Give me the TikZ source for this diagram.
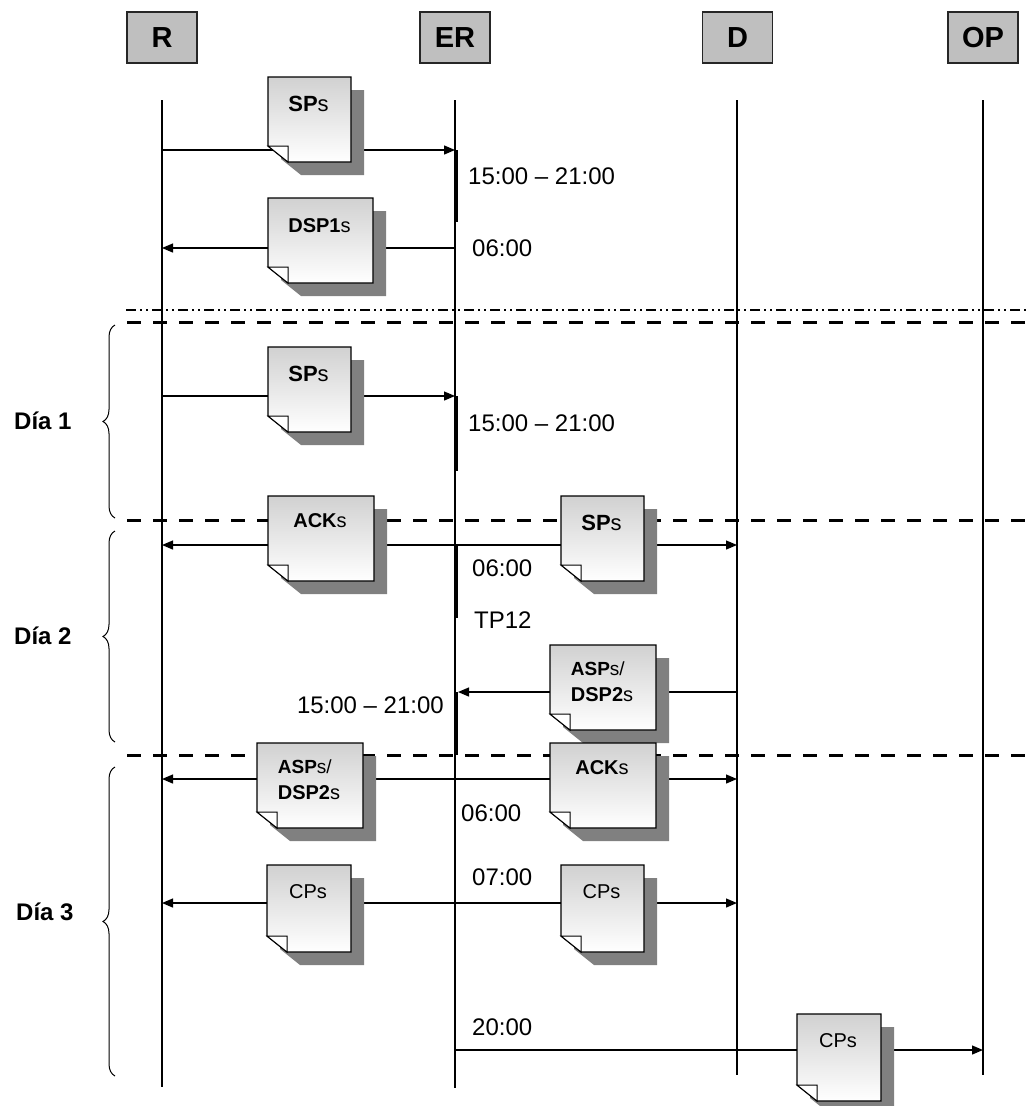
\documentclass[tikz,border=0pt]{standalone}
\usepackage{fontspec}
\setmainfont{Liberation Sans}
\usetikzlibrary{arrows.meta,decorations.pathreplacing}
\tikzset{
 lifeline/.style={line width=1.3pt},
 hdr/.style={draw=black!85, line width=1.5pt, fill=black!25, minimum width=70pt, minimum height=51pt, inner sep=0pt, font=\fontsize{29}{31}\selectfont\bfseries},
 msg/.style={line width=1.3pt, -{Triangle[length=11pt,width=9pt]}},
 actbar/.style={line width=4.5pt},
 daysep/.style={line width=3pt, dash pattern=on 14pt off 12pt},
 periodsep/.style={line width=1.2pt, dash pattern=on 10pt off 4pt on 2pt off 4pt on 2pt off 4pt},
 docshadow/.style={fill=black!50},
 docbody/.style={top color=black!18, bottom color=white, draw=black, line width=1.3pt},
 docfold/.style={fill=white, draw=black, line width=1pt},
 doclabel/.style={inner sep=0pt, font=\fontsize{20}{26}\selectfont, align=left},
 timelabel/.style={inner sep=0pt, font=\fontsize{24}{26}\selectfont},
 daylabel/.style={inner sep=0pt, font=\fontsize{24}{26}\selectfont\bfseries, anchor=west},
 daybrace/.style={decorate, decoration={brace, amplitude=12pt}, line width=1pt},
}
\newcommand\docshape[7]{%
 \begin{scope}[shift={(#2,#3)}]
  \fill[docshadow] (13,13) -- ({#4+13},13) -- ({#4+13},{#5+13}) -- (33,{#5+13}) -- (13,{#5-3}) -- cycle;
  \shadedraw[docbody] (0,0) -- (#4,0) -- (#4,#5) -- (20,#5) -- (0,{#5-16}) -- cycle;
  \filldraw[docfold] (0,{#5-16}) -- (20,{#5-16}) -- (20,#5) -- cycle;
  \node[doclabel] (#1) at ({#4/2-1},#7) {#6};
 \end{scope}}
\begin{document}
\begin{tikzpicture}[x=1pt,y=-1pt]
\useasboundingbox (0,0) rectangle (1027,1106);
% headers
\node[hdr] (hR) at (162,37.5) {R};
\node[hdr] (hER) at (455,37.5) {ER};
\node[hdr] (hD) at (737.5,37.5) {D};
\node[hdr] (hOP) at (983,37.5) {OP};
% lifelines
\coordinate (Rt) at (162,100); \coordinate (Rb) at (162,1087);
\coordinate (Et) at (455,100); \coordinate (Eb) at (455,1088);
\coordinate (Dt) at (737,100); \coordinate (Db) at (737,1075);
\coordinate (Ot) at (983,100); \coordinate (Ob) at (983,1075);
\draw[lifeline] (Rt) -- (Rb);
\draw[lifeline] (Et) -- (Eb);
\draw[lifeline] (Dt) -- (Db);
\draw[lifeline] (Ot) -- (Ob);
% separators
\coordinate (p0a) at (126,310); \coordinate (p0b) at (1027,310);
\draw[periodsep] (p0a) -- (p0b);
\coordinate (s1a) at (127,322); \coordinate (s1b) at (1027,322);
\coordinate (s2a) at (127,520); \coordinate (s2b) at (1027,520);
\coordinate (s3a) at (127,755); \coordinate (s3b) at (1027,755);
\draw[daysep] (s1a) -- (s1b);
\draw[daysep] (s2a) -- (s2b);
\draw[daysep] (s3a) -- (s3b);
% braces and day labels
\coordinate (b1a) at (115,518); \coordinate (b1b) at (115,325);
\coordinate (b2a) at (115,742); \coordinate (b2b) at (115,531);
\coordinate (b3a) at (115,1076); \coordinate (b3b) at (115,767);
\draw[daybrace] (b1a) -- (b1b);
\draw[daybrace] (b2a) -- (b2b);
\draw[daybrace] (b3a) -- (b3b);
\node[daylabel] (dia1) at (14,421) {Día 1};
\node[daylabel] (dia2) at (14,636) {Día 2};
\node[daylabel] (dia3) at (16,912) {Día 3};
% message coordinates
\coordinate (R1) at (162,150); \coordinate (E1) at (455,150);
\coordinate (R2) at (162,248); \coordinate (E2) at (455,248);
\coordinate (R3) at (162,396); \coordinate (E3) at (455,396);
\coordinate (R4) at (162,545); \coordinate (E4) at (455,545); \coordinate (D4) at (737,545);
\coordinate (D5) at (737,692); \coordinate (E5) at (458,692);
\coordinate (R6) at (162,779); \coordinate (E6) at (455,779); \coordinate (D6) at (737,779);
\coordinate (R7) at (162,903); \coordinate (E7) at (455,903); \coordinate (D7) at (737,903);
\coordinate (E8) at (455,1050); \coordinate (O8) at (983,1050);
\draw[msg] (R1) -- (E1);
\draw[msg] (E2) -- (R2);
\draw[msg] (R3) -- (E3);
\draw[msg] (E4) -- (R4);
\draw[msg] (E4) -- (D4);
\draw[msg] (D5) -- (E5);
\draw[msg] (E6) -- (R6);
\draw[msg] (E6) -- (D6);
\draw[msg] (E7) -- (R7);
\draw[msg] (E7) -- (D7);
\draw[msg] (E8) -- (O8);
% activation bars
\coordinate (a1t) at (456,150); \coordinate (a1b) at (456,222);
\coordinate (a2t) at (456,396); \coordinate (a2b) at (456,471);
\coordinate (a3t) at (456,545); \coordinate (a3b) at (456,618);
\coordinate (a4t) at (456,692); \coordinate (a4b) at (456,755);
\draw[actbar] (a1t) -- (a1b);
\draw[actbar] (a2t) -- (a2b);
\draw[actbar] (a3t) -- (a3b);
\draw[actbar] (a4t) -- (a4b);
% documents
\docshape{d1}{268}{77}{83}{85}{\fontsize{22}{26}\selectfont\textbf{SP}s}{27}
\docshape{d2}{268}{198}{105}{85}{\textbf{DSP1}s}{28}
\docshape{d3}{268}{347}{83}{85}{\fontsize{22}{26}\selectfont\textbf{SP}s}{27}
\docshape{d4}{268}{496}{106}{85}{\textbf{ACK}s}{25}
\docshape{d5}{561}{496}{83}{85}{\fontsize{22}{26}\selectfont\textbf{SP}s}{27}
\docshape{d6}{550}{645}{106}{85}{\fontsize{19}{26}\selectfont\textbf{ASP}s/\\\textbf{DSP2}s}{37}
\docshape{d7}{257}{743}{106}{85}{\fontsize{19}{26}\selectfont\textbf{ASP}s/\\\textbf{DSP2}s}{37}
\docshape{d8}{550}{743}{106}{85}{\textbf{ACK}s}{25}
\docshape{d9}{267}{865}{84}{87}{CPs}{27}
\docshape{d10}{561}{865}{83}{87}{CPs}{27}
\docshape{d11}{797}{1014}{84}{87}{CPs}{27}
% time labels
\node[timelabel, anchor=west] (t1) at (468,176) {15:00 – 21:00};
\node[timelabel, anchor=west] (t2) at (472,248) {06:00};
\node[timelabel, anchor=west] (t3) at (468,423) {15:00 – 21:00};
\node[timelabel, anchor=west] (t4) at (472,568) {06:00};
\node[timelabel, anchor=west] (t5) at (474,620) {TP12};
\node[timelabel, anchor=east] (t6) at (444,705) {15:00 – 21:00};
\node[timelabel, anchor=west] (t7) at (461,813) {06:00};
\node[timelabel, anchor=west] (t8) at (472,877) {07:00};
\node[timelabel, anchor=west] (t9) at (472,1027) {20:00};
\end{tikzpicture}
\end{document}
